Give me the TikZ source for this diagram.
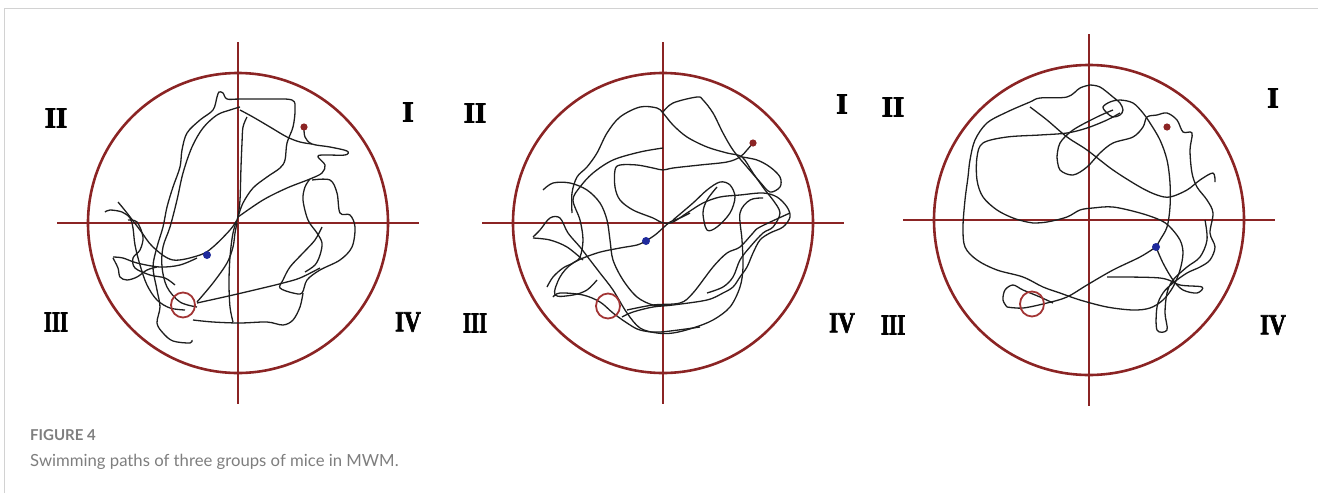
\documentclass[tikz,border=0pt]{standalone}
\usepackage{fontspec}
\setmainfont{Liberation Serif}
\newfontfamily\numfont[FakeBold=2.5]{Liberation Serif Bold}
\newfontfamily\capfont{Lato}
\usetikzlibrary{positioning}
\definecolor{poolred}{HTML}{8B2424}
\definecolor{goalred}{HTML}{A23434}
\definecolor{trackgray}{HTML}{1E1E1E}
\definecolor{startblue}{HTML}{1F2A9C}
\definecolor{framegray}{HTML}{D2D2D2}
\definecolor{capgray}{HTML}{7E7E7E}

\tikzset{
  ring/.style={poolred, line width=2.6pt},
  crosshair/.style={poolred, line width=1.9pt},
  track/.style={trackgray, line width=1.3pt, line join=round},
  goal/.style={goalred, line width=1.8pt},
  numeral/.style={font=\numfont\fontsize{29}{33}\selectfont, inner sep=0pt}
}

\begin{document}
\begin{tikzpicture}[x=1pt, y=-1pt]
  \useasboundingbox (0,0) rectangle (1318,493);
  \draw[framegray, line width=1pt] (4,493) -- (4,8) -- (1318,8);

  % pool, quadrant lines and labels
  \foreach \i/\cx/\cy/\r/\L/\lx/\rx/\ya/\yb/\yc in {1/238/223/150/181/56/408/118/112/322,
      2/663/223/150/181/475/842/113/104/323, 3/1089/220/155/186/893/1273/107/98/325}{
    \draw[ring] (\cx,\cy) circle[radius=\r];
    \draw[crosshair] (\cx-\L,\cy) -- (\cx+\L,\cy);
    \draw[crosshair] (\cx,\cy-\L) -- (\cx,\cy+\L);
    \node[numeral] (q2-\i) at (\lx,\ya) {II};
    \node[numeral] (q1-\i) at (\rx,\yb) {I};
    \node[numeral, xscale=0.72] (q3-\i) at (\lx,\yc) {III};
    \node[numeral, xscale=0.8] (q4-\i) at (\rx,\yc) {IV};
  }

  % panel 1 swimming path
  \draw[track] plot[smooth, tension=0.55] coordinates {(192,340) (190,343) (173,341) (163,333) (157,323)
    (160,307) (157,290) (153,267) (157,247) (163,227) (167,207) (173,187) (180,167) (182,150) (187,133)
    (200,120) (213,110) (217,97) (219,92) (223,93) (227,99) (240,99) (267,99) (292,100) (295,110)
    (293,127) (287,143) (285,160) (280,168) (267,177) (253,188) (243,203) (238,217) (233,233)
    (230,257) (229,283) (230,307) (233,322)};
  \draw[track] plot[smooth, tension=0.55] coordinates {(240,107) (230,110) (217,115) (203,128) (192,147)
    (183,173) (177,200) (170,227) (163,247) (162,267) (167,287) (180,302) (197,307)};
  \draw[track] plot[smooth, tension=0.55] coordinates {(238,217) (263,200) (287,188) (310,179) (322,173)
    (325,165) (318,157) (322,155) (345,155) (347,151) (330,147) (312,144) (305,137) (304,127)};
  \draw[track] plot[smooth, tension=0.55] coordinates {(247,117) (243,127) (242,143) (241,167) (240,200) (238,217)};
  \draw[track] plot[smooth, tension=0.55] coordinates {(240,110) (253,117) (270,127) (287,137) (300,142) (312,144)};
  \draw[track] plot[smooth, tension=0.55] coordinates {(310,179) (305,187) (303,200) (308,220) (317,233)
    (322,243) (320,255) (315,265) (305,272)};
  \draw[track] plot[smooth, tension=0.55] coordinates {(312,180) (330,180) (337,193) (340,213) (350,215)
    (355,227) (352,247) (340,260) (320,270) (307,280) (302,293) (293,293) (280,288) (283,280) (290,267)
    (303,253) (315,240) (322,227)};
  \draw[track] plot[smooth, tension=0.55] coordinates {(193,320) (213,322) (240,323) (267,322) (283,325)
    (293,320) (300,307) (303,293)};
  \draw[track] plot[smooth, tension=0.55] coordinates {(197,303) (233,295) (267,287) (283,283) (300,278) (320,268)};
  \draw[track] plot[smooth, tension=0.55] coordinates {(197,302) (213,283) (227,263) (233,247) (235,233) (237,223)};
  \draw[track] plot[smooth, tension=0.55] coordinates {(118,202) (127,213) (140,230) (153,247) (173,260)
    (200,255) (213,247) (230,230) (237,220)};
  \draw[track] plot[smooth, tension=0.55] coordinates {(113,257) (123,258) (137,263) (160,267) (180,265) (197,258)};
  \draw[track] plot[smooth, tension=0.55] coordinates {(113,258) (118,268) (120,277) (127,280) (137,277)
    (147,270) (157,267)};
  \draw[track] plot[smooth, tension=0.55] coordinates {(105,212) (110,210) (122,212) (130,218) (133,228)
    (135,245) (140,265) (147,285) (157,300) (170,308) (185,310)};
  \draw[track] plot[smooth, tension=0.55] coordinates {(128,220) (137,222) (143,237) (140,250) (133,258)
    (135,268) (150,275) (165,278) (175,285)};

  % panel 2 swimming path
  \draw[track] plot[smooth, tension=0.55] coordinates {(753,143) (747,150) (740,157) (727,162) (700,165)
    (673,168) (663,170) (653,168) (637,165) (620,165) (615,170) (615,187) (620,200) (633,210) (653,218)
    (663,223) (673,222) (687,213) (703,203) (720,197) (740,195) (763,193) (777,197) (787,207) (790,217)
    (783,227) (770,233) (760,240) (753,253) (747,267) (740,277) (733,287) (723,293) (707,300) (673,305)
    (653,307) (633,312) (622,317)};
  \draw[track] plot[smooth, tension=0.55] coordinates {(572,213) (572,193) (577,177) (587,167) (597,153)
    (607,133) (620,117) (640,107) (657,108) (663,113) (673,125) (687,137) (707,147) (727,153) (742,157)
    (753,173) (765,190) (773,200) (780,213) (773,227) (763,233) (750,247) (740,260) (733,277) (723,287)
    (707,293)};
  \draw[track] plot[smooth, tension=0.55] coordinates {(663,112) (673,103) (697,97) (703,100) (713,113)
    (723,133) (733,150) (747,167) (760,182) (770,192) (780,187) (780,177) (770,167) (757,160) (742,157)};
  \draw[track] plot[smooth, tension=0.55] coordinates {(533,237) (540,230) (550,218) (560,218) (568,233)
    (580,247) (590,260) (600,273) (613,290) (627,313) (640,328) (657,333) (673,333) (693,328) (713,320)
    (730,307) (740,287) (743,267) (742,240) (740,213) (750,200) (763,198)};
  \draw[track] plot[smooth, tension=0.55] coordinates {(543,190) (553,183) (570,183) (587,190) (600,203)
    (607,220) (610,240) (613,260) (623,280) (637,297) (653,305) (667,305)};
  \draw[track] plot[smooth, tension=0.55] coordinates {(553,297) (560,293) (583,295) (600,302) (613,313)
    (627,323) (640,330) (660,332) (700,327)};
  \draw[track] plot[smooth, tension=0.55] coordinates {(547,287) (553,277) (563,268) (573,263) (580,257)
    (583,240) (580,220) (573,200) (580,187) (593,173) (613,160) (640,152) (663,148)};
  \draw[track] plot[smooth, tension=0.55] coordinates {(646,241) (637,245) (620,248) (597,253) (573,263)
    (560,277) (555,295) (573,295) (587,290) (597,280)};
  \draw[track] plot[smooth, tension=0.55] coordinates {(646,241) (655,235) (663,228) (670,222) (680,218) (690,213)};
  \draw[track] plot[smooth, tension=0.55] coordinates {(673,220) (693,203) (707,190) (720,182) (730,185)
    (735,197) (730,213) (717,227) (707,230) (703,213) (707,200) (717,187)};
  \draw[track] plot[smooth, tension=0.55] coordinates {(627,310) (653,305) (680,303) (693,293) (713,267)
    (727,253) (740,247) (753,233) (760,227) (790,213)};
  \draw[track] plot[smooth, tension=0.55] coordinates {(533,238) (550,240) (567,247) (583,260)};

  % panel 3 swimming path
  \draw[track] plot[smooth, tension=0.55] coordinates {(1090,85) (1080,88) (1067,97) (1040,98) (1030,102)
    (1007,112) (987,123) (975,140) (970,160) (968,177) (965,200) (963,227) (965,247) (977,260) (997,270)
    (1023,277) (1043,287) (1060,293) (1080,300) (1107,307) (1133,310) (1150,308) (1163,300) (1173,287)
    (1180,270) (1183,253) (1180,240) (1170,227) (1160,220) (1140,213) (1113,207) (1093,208) (1080,210)
    (1067,217) (1047,222) (1033,223) (1027,222) (1013,218) (997,210) (983,197) (977,180) (977,157)
    (983,143) (1007,137) (1040,135) (1067,133) (1087,128) (1107,120) (1120,113)};
  \draw[track] plot[smooth, tension=0.55] coordinates {(1090,85) (1100,87) (1113,97) (1120,103) (1123,110)
    (1120,115) (1113,117) (1107,113) (1103,107) (1110,102) (1120,100) (1133,103) (1143,113) (1150,123)
    (1160,140) (1167,160) (1170,183) (1170,207) (1167,227) (1160,240) (1156,247)};
  \draw[track] plot[smooth, tension=0.55] coordinates {(1030,107) (1047,120) (1067,137) (1087,150)
    (1113,170) (1140,187) (1157,195) (1170,197) (1187,190) (1200,180) (1213,173) (1215,182)};
  \draw[track] plot[smooth, tension=0.55] coordinates {(1057,157) (1060,170) (1073,175) (1087,167)
    (1100,153) (1113,143) (1133,137) (1143,127) (1147,117) (1157,115) (1167,113) (1177,120) (1183,132)
    (1192,133) (1190,150) (1192,173) (1197,187) (1207,200) (1213,213) (1210,233) (1215,247) (1210,260)
    (1200,267) (1187,273) (1173,283) (1163,293) (1157,307) (1157,330) (1167,330) (1165,313) (1167,293)
    (1173,280) (1187,267) (1200,257) (1207,240) (1205,220)};
  \draw[track] plot[smooth, tension=0.55] coordinates {(1057,157) (1060,143) (1073,130) (1097,117) (1113,110)};
  \draw[track] plot[smooth, tension=0.55] coordinates {(1007,307) (1023,308) (1047,303) (1067,297)
    (1087,285) (1113,270) (1140,257) (1156,247)};
  \draw[track] plot[smooth, tension=0.55] coordinates {(1156,247) (1163,263) (1173,280) (1183,290)
    (1197,293) (1202,287) (1180,285) (1160,278) (1107,277)};
  \draw[track] plot[smooth, tension=0.55] coordinates {(1053,303) (1040,297) (1023,290) (1013,285)
    (1005,290) (1003,300) (1007,307)};

  % platforms, start and end points
  \foreach \i/\gx/\gy/\bx/\by/\ex/\ey in {1/183/305/207/255/304/127,
      2/608/306/646/241/753/143, 3/1032/304/1156/247/1167/127}{
    \draw[goal] (\gx,\gy) ellipse[x radius=12, y radius=12.5];
    \fill[startblue] (\bx,\by) circle[radius=4];
    \fill[poolred] (\ex,\ey) circle[radius=3.6];
  }

  % caption
  \node[anchor=base west, inner sep=0pt, text=capgray, font=\capfont\bfseries\fontsize{15}{17}\selectfont]
    (figno) at (30,440) {FIGURE 4};
  \node[anchor=base west, inner sep=0pt, text=capgray, font=\capfont\fontsize{16.7}{20}\selectfont]
    (figcap) at (30,466) {Swimming paths of three groups of mice in MWM.};
\end{tikzpicture}
\end{document}
